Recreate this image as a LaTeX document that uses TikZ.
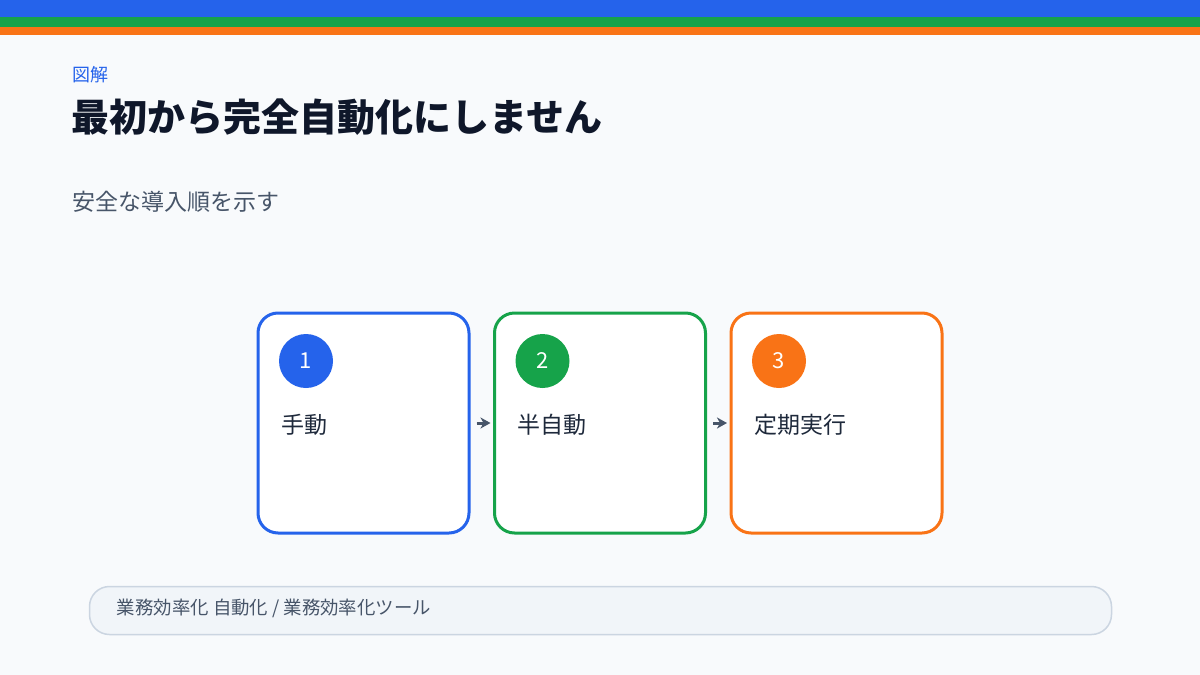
\documentclass[tikz,border=0pt]{standalone}
\usepackage{fontspec}
\setmainfont{Noto Sans CJK JP}
\newfontfamily\cjk{Noto Sans CJK JP}
\usetikzlibrary{positioning,arrows.meta}
\definecolor{bgpage}{HTML}{F8FAFC}
\definecolor{blueA}{HTML}{2563EB}
\definecolor{greenA}{HTML}{16A34A}
\definecolor{orangeA}{HTML}{F97316}
\definecolor{ink}{HTML}{0F172A}
\definecolor{slate}{HTML}{475569}
\definecolor{label}{HTML}{1E293B}
\definecolor{footfill}{HTML}{F1F5F9}
\definecolor{footline}{HTML}{CBD5E1}
\tikzset{
  stepbox/.style={draw=#1, line width=3pt, fill=white, rounded corners=20pt,
    minimum width=211pt, minimum height=220pt, inner sep=0pt},
  badge/.style={circle, fill=#1, text=white, minimum size=54pt, inner sep=0pt,
    font=\cjk\fontsize{22}{26}\selectfont},
  steptext/.style={anchor=west, text=label, font=\cjk\fontsize{23}{27}\selectfont},
  flow/.style={-{Stealth[length=10pt,width=11pt,inset=3pt]}, line width=3pt, draw=slate, fill=slate, shorten <=6pt, shorten >=2.5pt}
}
\begin{document}
\begin{tikzpicture}[x=1pt, y=-1pt, node distance=236.5pt]
    \useasboundingbox (0,0) rectangle (1200,675);
    \fill[bgpage] (0,0) rectangle (1200,675);
    % stripes
    \fill[blueA] (0,0) rectangle (1200,17);
    \fill[greenA] (0,17) rectangle (1200,27);
    \fill[orangeA] (0,27) rectangle (1200,35);
    % heading
    \node(Kicker) [anchor=west, text=blueA, font=\cjk\fontsize{18}{21}\selectfont, inner sep=0pt] at (72,75) {図解};
    \node(Title) [anchor=west, text=ink, font=\cjk\bfseries\fontsize{38}{44}\selectfont, inner sep=0pt] at (71,117) {最初から完全自動化にしません};
    \node(Subtitle) [anchor=west, text=slate, font=\cjk\fontsize{23}{27}\selectfont, inner sep=0pt] at (72,202) {安全な導入順を示す};
    % steps
    \node(Manual) [stepbox=blueA] at (363.5,423) {};
    \node(Semi) [stepbox=greenA, right of=Manual] {};
    \node(Sched) [stepbox=orangeA, right of=Semi] {};
    \node(ManualNo) [badge=blueA] at ([shift={(-57.5,-62)}]Manual.center) {1};
    \node(SemiNo) [badge=greenA] at ([shift={(-57.5,-62)}]Semi.center) {2};
    \node(SchedNo) [badge=orangeA] at ([shift={(-57.5,-62)}]Sched.center) {3};
    \node(ManualText) [steptext] at ([shift={(21,2)}]Manual.west) {手動};
    \node(SemiText) [steptext] at ([shift={(21,2)}]Semi.west) {半自動};
    \node(SchedText) [steptext] at ([shift={(21,2)}]Sched.west) {定期実行};
    \draw[flow] (Manual) -- (Semi);
    \draw[flow] (Semi) -- (Sched);
    % footer
    \node(Footer) [draw=footline, fill=footfill, line width=1.5pt, rounded corners=20pt,
      minimum width=1022pt, minimum height=48pt] at (600.5,610.5) {};
    \node(FooterText) [anchor=west, text=slate, font=\cjk\fontsize{18.4}{22}\selectfont, inner sep=0pt] at ([shift={(28,-2)}]Footer.west) {業務効率化 自動化 / 業務効率化ツール};
\end{tikzpicture}
\end{document}
